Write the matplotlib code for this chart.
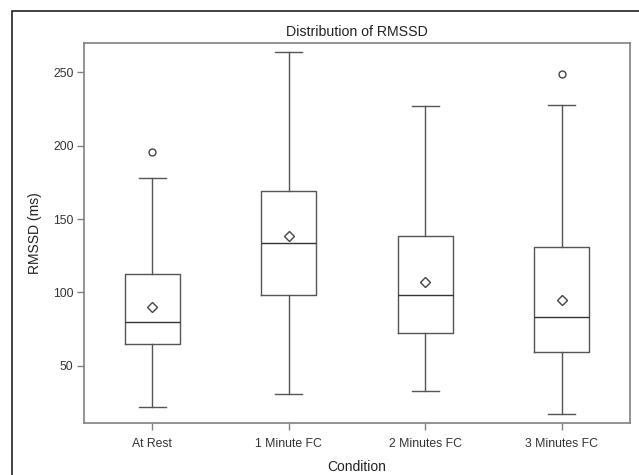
import matplotlib
matplotlib.use("Agg")
import matplotlib.pyplot as plt
from matplotlib.patches import Rectangle

# summary statistics
conditions = ["At Rest", "1 Minute FC", "2 Minutes FC", "3 Minutes FC"]
q1 = [64.5, 98.1, 72.5, 59.1]
medians = [79.5, 133.4, 98.5, 83.4]
q3 = [112.2, 169.1, 138.4, 131.2]
means = [90.2, 138.7, 107.0, 94.8]
whis_low = [21.8, 30.9, 32.7, 17.3]
whis_high = [178.1, 263.6, 227.0, 227.7]
outliers = [[195.9], [], [], [248.8]]

plt.rcParams["font.family"] = ["Liberation Sans", "DejaVu Sans"]

stats = []
for i, name in enumerate(conditions):
    stats.append({"label": name, "q1": q1[i], "med": medians[i], "q3": q3[i],
                  "mean": means[i], "whislo": whis_low[i], "whishi": whis_high[i],
                  "fliers": outliers[i]})

fig = plt.figure(figsize=(6.39, 4.75), dpi=100)
ax = fig.add_axes([84 / 639, 1 - 423.3 / 475, 546 / 639, 380 / 475])

line_col = "#555555"
ax.bxp(stats, positions=range(len(conditions)), widths=0.4, showmeans=True,
       capwidths=0.2,
       boxprops=dict(color=line_col, linewidth=1.0),
       whiskerprops=dict(color=line_col, linewidth=1.0),
       capprops=dict(color=line_col, linewidth=1.0),
       medianprops=dict(color="#333333", linewidth=1.0),
       meanprops=dict(marker="D", markerfacecolor="white", markeredgecolor="#444444",
                      markersize=5.5, markeredgewidth=1.0),
       flierprops=dict(marker="o", markerfacecolor="white", markeredgecolor="#444444",
                       markersize=5, markeredgewidth=1.0))

ax.set_xlim(-0.5, len(conditions) - 0.5)
ax.set_ylim(10.7, 269.8)
ax.set_yticks([50, 100, 150, 200, 250])
ax.set_xticks(range(len(conditions)))
ax.set_xticklabels(conditions)

for s in ax.spines.values():
    s.set_color("#808080")
    s.set_linewidth(1.2)
ax.tick_params(axis="both", colors="#808080", labelcolor="#333333",
               labelsize=8.8, length=5, width=1.0)
ax.tick_params(axis="x", pad=5.5)
ax.tick_params(axis="y", pad=2.5)

ax.set_title("Distribution of RMSSD", fontsize=10.2, color="#222222", pad=5)
ax.set_xlabel("Condition", fontsize=10, color="#222222", labelpad=7.5)
ax.set_ylabel("RMSSD (ms)", fontsize=10, color="#222222", labelpad=8)

# outer frame of the graph area
fig.add_artist(Rectangle((12 / 639, -1), 2, 2 - 11 / 475, transform=fig.transFigure,
                         fill=False, edgecolor="#222222", linewidth=1.2))

fig.savefig("out.png", dpi=100)
